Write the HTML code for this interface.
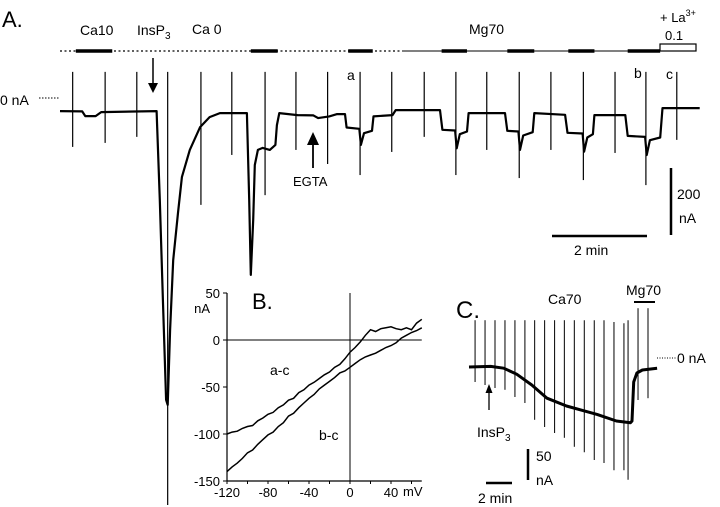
<!DOCTYPE html>
<html><head><meta charset="utf-8"><style>
html,body{margin:0;padding:0;background:#fff;}
svg{display:block;font-family:"Liberation Sans",sans-serif;}
</style></head><body>
<svg id="fig" width="720" height="507" viewBox="0 0 720 507">
<g id="gA">
<text x="2" y="27" font-size="22">A.</text>
<text x="80" y="35" font-size="14">Ca10</text>
<text x="137" y="35" font-size="14">InsP<tspan font-size="10" dy="4">3</tspan></text>
<text x="192" y="34" font-size="14">Ca 0</text>
<text x="469" y="34" font-size="14">Mg70</text>
<text x="660" y="22" font-size="13">+ La<tspan font-size="9" dy="-6">3+</tspan></text>
<text x="665" y="40" font-size="13">0.1</text>
<line x1="60" y1="51" x2="402" y2="51" stroke="#000" stroke-width="1.2" stroke-dasharray="2,2.5"/>
<line x1="402" y1="51" x2="660" y2="51" stroke="#000" stroke-width="1"/>
<rect x="660" y="44" width="36" height="7" fill="#fff" stroke="#000" stroke-width="1.2"/>
<text x="0" y="105" font-size="14">0 nA</text>
<line x1="39" y1="98" x2="60" y2="98" stroke="#000" stroke-width="1" stroke-dasharray="1.5,1.5"/>
<line x1="153" y1="58" x2="153" y2="84" stroke="#000" stroke-width="1.5"/>
<polygon points="148,83 158,83 153,93" fill="#000"/>
<line x1="313" y1="143" x2="313" y2="168" stroke="#000" stroke-width="1.8"/>
<polygon points="307,145 319,145 313,132" fill="#000"/>
<text x="293" y="186" font-size="13">EGTA</text>
<text x="347" y="80" font-size="14">a</text>
<text x="634" y="78" font-size="14">b</text>
<text x="666" y="79" font-size="14">c</text>
<line x1="671" y1="168" x2="671" y2="235" stroke="#000" stroke-width="2.5"/>
<text x="677" y="199" font-size="14">200</text>
<text x="679" y="223" font-size="14">nA</text>
<line x1="552" y1="236" x2="647" y2="236" stroke="#000" stroke-width="2.5"/>
<text x="574" y="255" font-size="14">2 min</text>
</g>
<g id="gB">
<text x="252" y="309" font-size="22">B.</text>
<text x="210" y="313" font-size="13" text-anchor="end">nA</text>
<text x="403" y="496" font-size="13">mV</text>
<text x="270" y="375" font-size="14">a-c</text>
<text x="319" y="440" font-size="14">b-c</text>
</g>
<g id="gC">
<text x="456" y="318" font-size="24">C.</text>
<text x="548" y="304" font-size="14">Ca70</text>
<text x="626" y="295" font-size="14">Mg70</text>
<line x1="634" y1="302" x2="655" y2="302" stroke="#000" stroke-width="2"/>
<line x1="657" y1="358" x2="676" y2="358" stroke="#000" stroke-width="1" stroke-dasharray="1,1.5"/>
<text x="677" y="363" font-size="14">0 nA</text>
<line x1="489" y1="392" x2="489" y2="410" stroke="#000" stroke-width="1.3"/>
<polygon points="485.5,393 492.5,393 489,384" fill="#000"/>
<text x="477" y="437" font-size="14">InsP<tspan font-size="10" dy="4">3</tspan></text>
<line x1="528" y1="449" x2="528" y2="480" stroke="#000" stroke-width="2.5"/>
<text x="536" y="461" font-size="14">50</text>
<text x="536" y="485" font-size="14">nA</text>
<line x1="486" y1="483" x2="512" y2="483" stroke="#000" stroke-width="2.5"/>
<text x="478" y="503" font-size="14">2 min</text>
</g>
</svg>
<script>
// ---------- Panel A data (time s, current nA) ----------
const aTraceT = [0,28,32,45,52,122,126,130,134,136,139,143,149,154,164,177,189,202,236,239,241,244,246,250,256,265,272,274,277,300,320,326,340,350,360,362,378,380,384,394,396,420,424,480,483,499,501,505,514,516,562,565,579,581,585,597,599,638,641,660,662,666,673,675,714,717,739,741,745,758,761,808];
const aTraceI = [-39,-40,-54,-54,-42,-39,-304,-603,-901,-916,-692,-484,-343,-236,-155,-87,-57,-45,-45,-304,-528,-364,-200,-155,-149,-155,-140,-81,-45,-51,-52,-60,-55,-48,-48,-88,-92,-140,-105,-98,-55,-51,-36,-36,-95,-97,-150,-108,-100,-45,-45,-98,-100,-155,-112,-102,-45,-50,-104,-106,-160,-118,-108,-51,-51,-113,-116,-170,-126,-118,-30,-30];
const aSpikeT = [16,57,97,136,178,217,259,298,338,379,419,460,500,539,580,620,661,701,740,779];
const aSpikeBottom = [-146,-134,-116,-1215,-319,-170,-290,-155,-197,-230,-161,-116,-230,-155,-239,-155,-245,-164,-260,-125];
const aSpikeTop = [78,78,78,78,78,78,78,78,78,78,78,78,78,78,78,78,78,78,78,78];
const aSolBarStart = [20,241,364,482,565,642,717];
const aSolBarEnd = [66,275,395,514,599,675,758];
// ---------- Panel B data ----------
const bV = [-120,-115,-110,-105,-100,-95,-90,-85,-80,-75,-70,-65,-60,-55,-50,-45,-40,-35,-30,-25,-20,-15,-10,-5,0,5,10,15,20,25,30,35,40,45,50,55,60,65,70];
const bAC = [-100,-98,-97,-94,-92,-91,-86,-83,-79,-77,-72,-69,-64,-62,-56,-53,-48,-45,-41,-37,-34,-29,-26,-20,-13,-8,-2,5,11,9,12,13,14,12,11,13,11,18,22];
const bBC = [-140,-135,-131,-126,-120,-117,-111,-106,-101,-98,-92,-88,-81,-78,-72,-67,-62,-58,-52,-48,-44,-40,-35,-33,-29,-25,-21,-18,-16,-14,-11,-8,-6,-3,2,5,8,10,13];
const bYTicks = [50,0,-50,-100,-150];
const bXTicks = [-120,-80,-40,0,40];
const bXMinor = [-120,-100,-80,-60,-40,-20,0,20,40,60];
// ---------- Panel C data ----------
const cTraceT = [0,100,160,220,290,360,450,530,591,680,745,752,760,775,800,868];
const cTraceI = [-15,-14,-17,-27,-45,-67,-80,-88,-94,-105,-108,-105,-40,-25,-20,-17];
const cSpikeT = [28,74,120,166,212,258,303,349,395,440,486,532,578,623,669,715,734,780,826];
const cSpikeBottom = [-40,-45,-50,-53,-65,-75,-103,-115,-125,-133,-148,-157,-170,-175,-187,-187,-203,-70,-67];
const cSpikeTop = [63,63,63,63,63,63,63,63,63,63,63,63,63,63,60,58,63,83,83];

// ---------- axis functions ----------
const axA = t => 60 + t / 1.263;
const ayA = i => 98 - i / 2.985;
const axB = v => 350 + v * 1.025;
const ayB = i => 340 - i * 0.94;
const axC = t => 469 + t * 0.2167;
const ayC = i => 358 - i * 0.6;

const NS = 'http://www.w3.org/2000/svg';
function mk(tag, parent, attrs){const e=document.createElementNS(NS,tag);for(const k in attrs)e.setAttribute(k,attrs[k]);parent.appendChild(e);return e;}
const gA=document.getElementById('gA'),gB=document.getElementById('gB'),gC=document.getElementById('gC');

// Panel A solution bars
for(let k=0;k<aSolBarStart.length;k++){
  const l=mk('line',gA,{x1:axA(aSolBarStart[k]),x2:axA(aSolBarEnd[k]),y1:51,y2:51,stroke:'#000','stroke-width':3.5});
  
  
}
// Panel A trace
let d='';
for(let k=0;k<aTraceT.length;k++) d+=(k?'L':'M')+axA(aTraceT[k]).toFixed(1)+','+ayA(aTraceI[k]).toFixed(1);
const pa=mk('path',gA,{d:d,fill:'none',stroke:'#000','stroke-width':2.2,'stroke-linejoin':'round'});


for(let k=0;k<aSpikeT.length;k++){
  const s=mk('line',gA,{x1:axA(aSpikeT[k]),x2:axA(aSpikeT[k]),y1:ayA(aSpikeTop[k]),y2:Math.min(507,ayA(aSpikeBottom[k])),stroke:'#000','stroke-width':1.2});
  
  
}

// Panel B axes
const yAx=mk('line',gB,{x1:axB(-120),x2:axB(-120),y1:ayB(50),y2:ayB(-150),stroke:'#000','stroke-width':1.2});


const xAx=mk('line',gB,{x1:axB(-120),x2:axB(70),y1:ayB(-150),y2:ayB(-150),stroke:'#000','stroke-width':1.2});


const zl=mk('line',gB,{x1:axB(-120),x2:axB(70),y1:ayB(0),y2:ayB(0),stroke:'#000','stroke-width':1});


const vl=mk('line',gB,{x1:axB(0),x2:axB(0),y1:ayB(50),y2:ayB(-150),stroke:'#000','stroke-width':1});


for(const v of bYTicks){
  const t=mk('line',gB,{x1:axB(-120)-4,x2:axB(-120),y1:ayB(v),y2:ayB(v),stroke:'#000'});
  
  
  const tx=mk('text',gB,{x:220,y:ayB(v)+5,'font-size':13,'text-anchor':'end'});
  tx.textContent=v;
  
  
}
for(const v of bXMinor){
  const t=mk('line',gB,{x1:axB(v),x2:axB(v),y1:ayB(-150),y2:ayB(-150)+3,stroke:'#000'});
  
  
}
for(const v of bXTicks){
  const tx=mk('text',gB,{x:axB(v),y:497,'font-size':13,'text-anchor':'middle'});
  tx.textContent=v;
  
  
}
function ivPath(arr){let s='';for(let k=0;k<bV.length;k++)s+=(k?'L':'M')+axB(bV[k]).toFixed(1)+','+ayB(arr[k]).toFixed(1);return s;}
const c1=mk('path',gB,{d:ivPath(bAC),fill:'none',stroke:'#000','stroke-width':1.5});


const c2=mk('path',gB,{d:ivPath(bBC),fill:'none',stroke:'#000','stroke-width':1.5});



// Panel C
for(let k=0;k<cSpikeT.length;k++){
  const s=mk('line',gC,{x1:axC(cSpikeT[k]),x2:axC(cSpikeT[k]),y1:ayC(cSpikeTop[k]),y2:ayC(cSpikeBottom[k]),stroke:'#000','stroke-width':1});
  
  
}
let dc='';
for(let k=0;k<cTraceT.length;k++) dc+=(k?'L':'M')+axC(cTraceT[k]).toFixed(1)+','+ayC(cTraceI[k]).toFixed(1);
const pc=mk('path',gC,{d:dc,fill:'none',stroke:'#000','stroke-width':3,'stroke-linejoin':'round'});


</script>
</body></html>
